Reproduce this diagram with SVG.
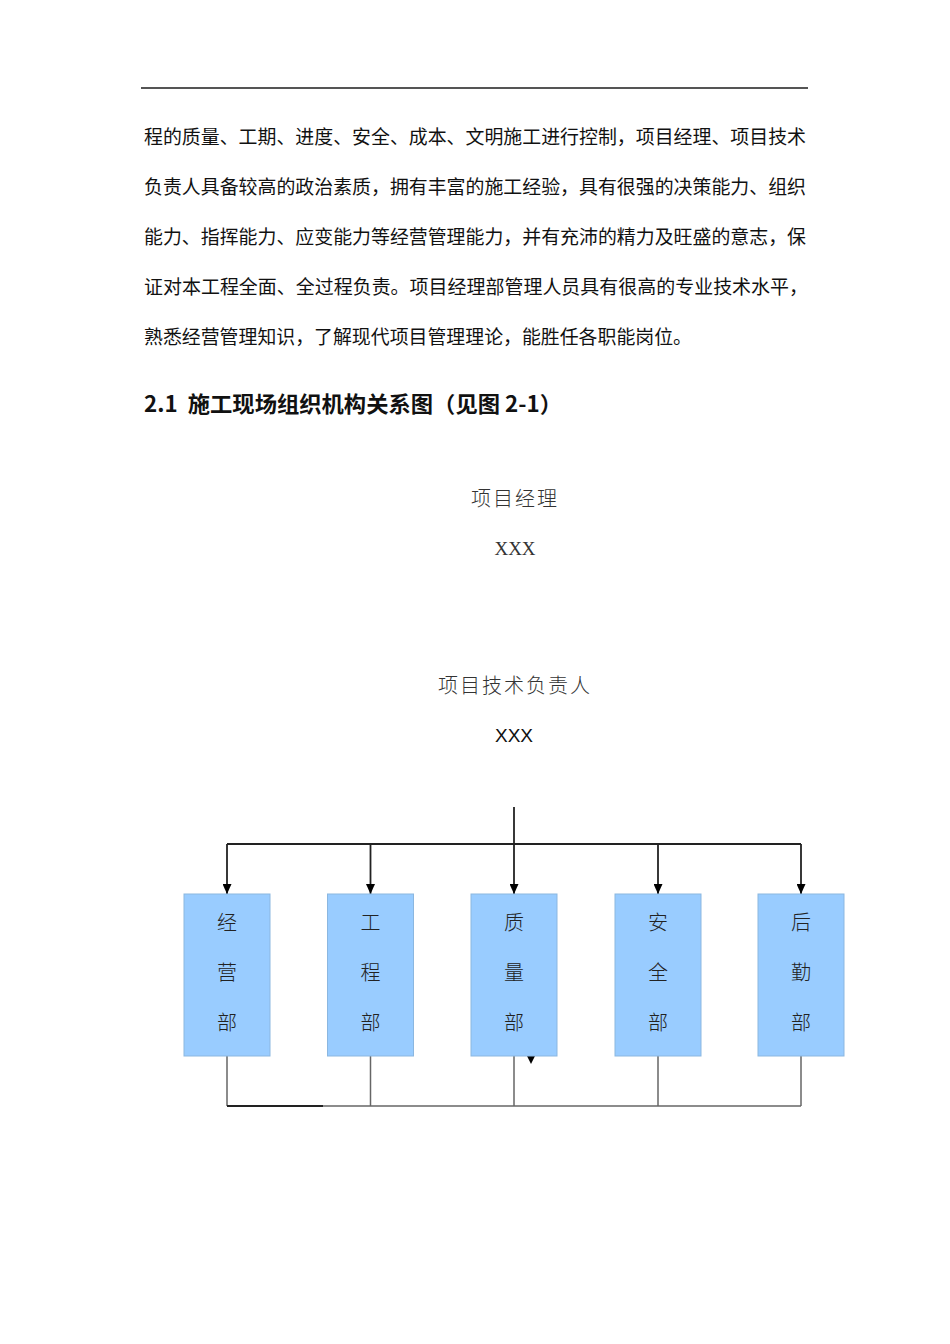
<svg xmlns="http://www.w3.org/2000/svg" width="950" height="1344" viewBox="0 0 950 1344">
<style>
.p{font-family:"Noto Sans CJK SC","Liberation Sans",sans-serif;font-size:19px;fill:#111;dominant-baseline:central}
.h{font-family:"Noto Sans CJK SC","Liberation Sans",sans-serif;font-size:22px;font-weight:bold;fill:#111;dominant-baseline:central;white-space:pre}
.t{font-family:"Noto Sans CJK SC",sans-serif;font-size:20px;fill:#333;font-weight:300;text-anchor:middle;dominant-baseline:central}
.xs{font-family:"Liberation Serif",serif;font-size:19px;fill:#333;text-anchor:middle;dominant-baseline:central}
.xa{font-family:"Liberation Sans",sans-serif;font-size:19px;fill:#111;text-anchor:middle;dominant-baseline:central}
.box{fill:#99CCFF;stroke:#8BB7E0;stroke-width:1}
.bl{font-family:"Noto Sans CJK SC",sans-serif;font-size:20px;fill:#222;font-weight:300;text-anchor:middle;dominant-baseline:central}
.ln{stroke:#222;stroke-width:1.8;fill:none}
.lg{stroke:#666;stroke-width:1.5;fill:none}
</style>
<defs>
<marker id="ah" markerWidth="10" markerHeight="9" refX="10" refY="4.5" orient="auto" markerUnits="userSpaceOnUse" viewBox="0 0 10 9">
<path d="M0,0 L10,4.5 L0,9 Z" fill="#000"/>
</marker>
</defs>
<rect width="950" height="1344" fill="#fff"/>
<line x1="141" y1="88" x2="808" y2="88" stroke="#555" stroke-width="2"/>
<g id="body-text">
<text class="p" x="144" y="135" textLength="662" lengthAdjust="spacingAndGlyphs">程的质量、工期、进度、安全、成本、文明施工进行控制，项目经理、项目技术</text>
<text class="p" x="144" y="185" textLength="662" lengthAdjust="spacingAndGlyphs">负责人具备较高的政治素质，拥有丰富的施工经验，具有很强的决策能力、组织</text>
<text class="p" x="144" y="235" textLength="662" lengthAdjust="spacingAndGlyphs">能力、指挥能力、应变能力等经营管理能力，并有充沛的精力及旺盛的意志，保</text>
<text class="p" x="144" y="285" textLength="664" lengthAdjust="spacingAndGlyphs">证对本工程全面、全过程负责。项目经理部管理人员具有很高的专业技术水平，</text>
<text class="p" x="144" y="335" textLength="548" lengthAdjust="spacingAndGlyphs">熟悉经营管理知识，了解现代项目管理理论，能胜任各职能岗位。</text>
<text class="h" x="144" y="402" textLength="418" lengthAdjust="spacingAndGlyphs" xml:space="preserve">2.1  施工现场组织机构关系图（见图 2-1）</text>
</g>
<g id="node-pm">
<text class="t" x="515" y="497" letter-spacing="2">项目经理</text>
<text class="xs" x="515" y="548">XXX</text>
</g>
<g id="node-tech">
<text class="t" x="515" y="684" letter-spacing="2">项目技术负责人</text>
<text class="xa" x="514" y="735">XXX</text>
</g>
<g id="connectors">
<line class="ln" x1="227" y1="844" x2="801" y2="844"/>
<line class="ln" x1="514" y1="807" x2="514" y2="894" marker-end="url(#ah)"/>
<line class="ln" x1="227" y1="844" x2="227" y2="894" marker-end="url(#ah)"/>
<line class="ln" x1="370.5" y1="844" x2="370.5" y2="894" marker-end="url(#ah)"/>
<line class="ln" x1="658" y1="844" x2="658" y2="894" marker-end="url(#ah)"/>
<line class="ln" x1="801" y1="844" x2="801" y2="894" marker-end="url(#ah)"/>
<line class="lg" x1="227" y1="1056" x2="227" y2="1106"/>
<line class="lg" x1="370.5" y1="1056" x2="370.5" y2="1106"/>
<line class="lg" x1="514" y1="1056" x2="514" y2="1106"/>
<line class="lg" x1="658" y1="1056" x2="658" y2="1106"/>
<line class="lg" x1="801" y1="1056" x2="801" y2="1106"/>
<line class="lg" x1="227" y1="1106" x2="801" y2="1106"/>
<line class="ln" x1="227" y1="1106" x2="323" y2="1106"/>
<path d="M527,1056 L535,1056 L531,1064 Z" fill="#000"/>
</g>
<g id="node-jingying">
<rect class="box" x="184" y="894" width="86" height="162"/>
<text class="bl" x="227" y="921">经</text><text class="bl" x="227" y="971">营</text><text class="bl" x="227" y="1021">部</text>
</g>
<g id="node-gongcheng">
<rect class="box" x="327.5" y="894" width="86" height="162"/>
<text class="bl" x="370.5" y="921">工</text><text class="bl" x="370.5" y="971">程</text><text class="bl" x="370.5" y="1021">部</text>
</g>
<g id="node-zhiliang">
<rect class="box" x="471" y="894" width="86" height="162"/>
<text class="bl" x="514" y="921">质</text><text class="bl" x="514" y="971">量</text><text class="bl" x="514" y="1021">部</text>
</g>
<g id="node-anquan">
<rect class="box" x="615" y="894" width="86" height="162"/>
<text class="bl" x="658" y="921">安</text><text class="bl" x="658" y="971">全</text><text class="bl" x="658" y="1021">部</text>
</g>
<g id="node-houqin">
<rect class="box" x="758" y="894" width="86" height="162"/>
<text class="bl" x="801" y="921">后</text><text class="bl" x="801" y="971">勤</text><text class="bl" x="801" y="1021">部</text>
</g>
</svg>
